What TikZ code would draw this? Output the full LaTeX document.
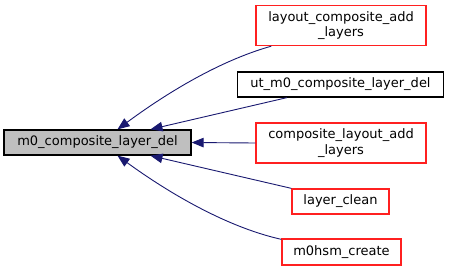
\documentclass[tikz,border=0pt]{standalone}
\usepackage{fontspec}
\setmainfont{DejaVu Sans}
\usetikzlibrary{arrows.meta,calc}
\definecolor{edgeblue}{HTML}{191970}
\definecolor{mainfill}{HTML}{BFBFBF}
\definecolor{linkred}{HTML}{FF2020}
\tikzset{
  fn/.style={draw, line width=1.3pt, inner sep=0pt, align=center,
    font=\fontsize{13}{15.5}\selectfont, text=black},
  callee/.style={fn, fill=mainfill, draw=black},
  plain/.style={fn, fill=white, draw=black},
  linked/.style={fn, fill=white, draw=linkred},
  edge/.style={draw=edgeblue, line width=0.9pt,
    -{Triangle[length=12pt,width=9.5pt,fill=edgeblue]}}
}
\begin{document}
\begin{tikzpicture}[x=1pt,y=-1pt]
  \useasboundingbox (0,0) rectangle (449,271);
  % the function itself
  \node[callee, minimum width=187pt, minimum height=25pt] (main) at (97.5,142.5) {m0\_composite\_layer\_del};
  % its callers
  \node[linked, minimum width=170pt, minimum height=40pt] (lcal) at (341,25.5) {layout\_composite\_add\\\_layers};
  \node[plain, minimum width=206pt, minimum height=25pt] (ut) at (340.5,84.5) {ut\_m0\_composite\_layer\_del};
  \node[linked, minimum width=170pt, minimum height=40pt] (clal) at (341,143) {composite\_layout\_add\\\_layers};
  \node[linked, minimum width=97pt, minimum height=25pt] (lc) at (340.5,201.5) {layer\_clean};
  \node[linked, minimum width=119pt, minimum height=26pt] (hsm) at (341.5,252) {m0hsm\_create};
  % call edges
  \draw[edge] ($(lcal.south west)+(16,0)$) .. controls (215,62) and (160,98) .. ($(main.north)+(20,0)$);
  \draw[edge] ($(ut.south west)+(50,0)$) -- ($(main.north)+(53,0)$);
  \draw[edge] (clal.west) -- (main.east);
  \draw[edge] (lc.north west) -- ($(main.south)+(53,0)$);
  \draw[edge] ($(hsm.north west)+(0,1)$) .. controls (222,226) and (162,188) .. ($(main.south)+(20,0)$);
\end{tikzpicture}
\end{document}
